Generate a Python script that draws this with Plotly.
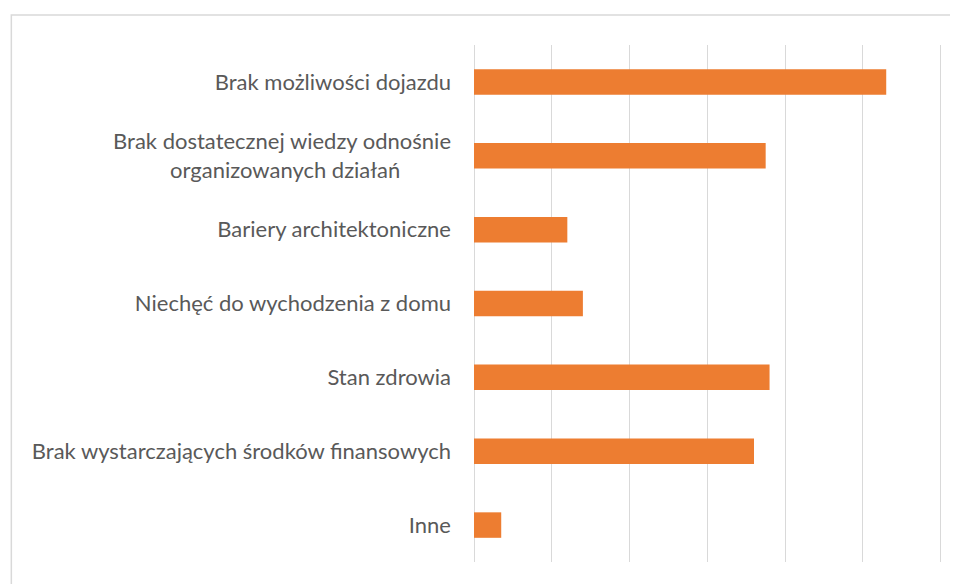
import plotly.graph_objects as go

NB = "\u00a0"
categories = [
    "Brak możliwości dojazdu",
    "Brak dostatecznej wiedzy odnośnie<br>organizowanych działań" + NB * 9,
    "Bariery architektoniczne",
    "Niechęć do wychodzenia z domu",
    "Stan zdrowia",
    "Brak wystarczających środków finansowych",
    "Inne",
]
values = [53, 37.5, 12, 14, 38, 36, 3.5]

fig = go.Figure(
    go.Bar(
        x=values,
        y=categories,
        orientation="h",
        marker=dict(color="#ED7D31", line=dict(width=0)),
        width=0.345,
    )
)

# page has an 8px body margin; work in figure coordinates
OFF = 8
W, H = 958 - OFF, 584 - OFF
XMAX = 60.3
px_per_unit = (941 - 473.5) / 60
L = 473.5 - OFF
pw = XMAX * px_per_unit
R = W - L - pw
T = 45 - OFF
B = H - (562 - OFF)
ph = H - T - B

fig.update_layout(
    width=W,
    height=H,
    margin=dict(l=L, r=R, t=T, b=B, pad=0),
    paper_bgcolor="white",
    plot_bgcolor="white",
    showlegend=False,
    font=dict(family="Lato, Open Sans, sans-serif", size=22, color="#595959"),
    xaxis=dict(
        range=[0, XMAX],
        tickvals=[0, 10, 20, 30, 40, 50, 60],
        showticklabels=False,
        showgrid=True,
        gridcolor="#D9D9D9",
        gridwidth=1,
        zeroline=True,
        zerolinecolor="#D9D9D9",
        zerolinewidth=1,
        showline=False,
        fixedrange=True,
    ),
    yaxis=dict(
        autorange="reversed",
        showgrid=False,
        zeroline=False,
        showline=False,
        ticks="",
        ticklabelstandoff=22,
        fixedrange=True,
    ),
    shapes=[
        dict(
            type="rect",
            xref="paper",
            yref="paper",
            x0=(10 - 473.5) / pw,
            x1=1 + (R + 10) / pw,
            y0=-(B + 10) / ph,
            y1=1 + (45 - 15) / ph,
            line=dict(color="#D9D9D9", width=1.5),
            fillcolor="rgba(0,0,0,0)",
            layer="below",
        )
    ],
)

fig.write_html("out.html")
